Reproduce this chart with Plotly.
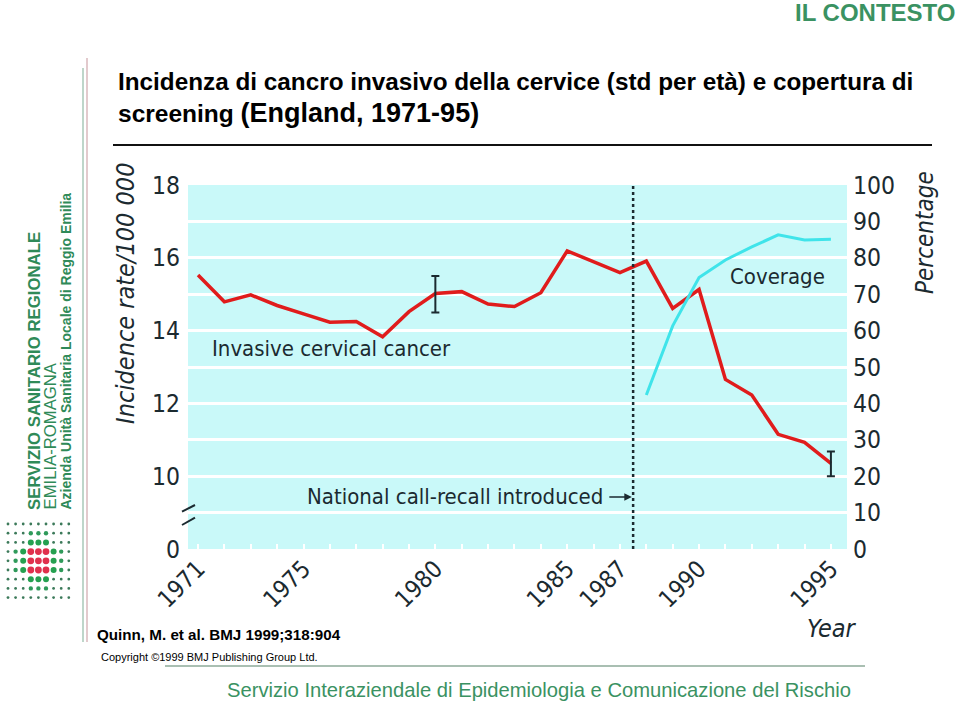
import plotly.graph_objects as go

# ---------------- data ----------------
years = list(range(1971, 1996))
incidence = [15.53, 14.79, 14.98, 14.69, 14.46, 14.23, 14.25, 13.83, 14.52, 15.02,
             15.07, 14.73, 14.66, 15.04, 16.19, 15.90, 15.59, 15.91, 14.61, 15.13,
             12.66, 12.23, 11.15, 10.93, 10.35]
coverage_years = [1988, 1989, 1990, 1991, 1992, 1993, 1994, 1995]
coverage = [42.3, 61.3, 74.6, 79.4, 83.0, 86.3, 84.9, 85.1]
err_years = [1980, 1995]
err_upper = [15.50, 10.68]
err_lower = [14.50, 10.00]
x_tick_years = [1971, 1975, 1980, 1985, 1987, 1990, 1995]
left_tickvals = [8, 10, 12, 14, 16, 18]
left_ticktext = ["0", "10", "12", "14", "16", "18"]
right_tickvals = list(range(0, 101, 10))
call_recall_year = 1987.5

# ---------------- style ----------------
NARROW = "DejaVu Sans Condensed, Liberation Sans Narrow, sans-serif"
SANS = "Liberation Sans, Arial, sans-serif"
DARK = "#1b2a30"
GREEN = "#3a9262"
RED = "#e01c1c"
CYAN = "#3fe4ea"
BG = "#c9f9f9"

W, H = 960, 706
PL, PR, PT, PB = 188, 847, 185, 549


def px(x):
    return (x - PL) / (PR - PL)


def py(y):
    return (PB - y) / (PB - PT)


fig = go.Figure()

fig.add_trace(go.Scatter(x=years, y=incidence, mode="lines",
                         line=dict(color=RED, width=3.5), hoverinfo="skip",
                         showlegend=False))

err_vals = [incidence[years.index(yr)] for yr in err_years]
fig.add_trace(go.Scatter(
    x=err_years, y=err_vals, mode="markers", marker=dict(size=1, color="rgba(0,0,0,0)"),
    error_y=dict(type="data", symmetric=False,
                 array=[u - v for u, v in zip(err_upper, err_vals)],
                 arrayminus=[v - l for v, l in zip(err_vals, err_lower)],
                 color=DARK, thickness=2, width=4),
    hoverinfo="skip", showlegend=False))

fig.add_trace(go.Scatter(x=coverage_years, y=coverage, mode="lines", yaxis="y2",
                         line=dict(color=CYAN, width=3), hoverinfo="skip",
                         showlegend=False))

shapes = []
annotations = []

# dotted vertical line (national call-recall)
shapes.append(dict(type="line", xref="x", yref="paper", x0=call_recall_year,
                   x1=call_recall_year, y0=0, y1=1,
                   line=dict(color=DARK, width=2.5, dash="dot")))

# axis break marks
for y0, y1 in [(511.7, 505), (525, 517.7)]:
    shapes.append(dict(type="line", xref="paper", yref="paper",
                       x0=px(182), x1=px(195), y0=py(y0), y1=py(y1),
                       line=dict(color=DARK, width=2)))

# title underline
shapes.append(dict(type="line", xref="paper", yref="paper", x0=px(113), x1=px(932),
                   y0=py(145), y1=py(145), line=dict(color="#111111", width=2)))
# bottom separator
shapes.append(dict(type="line", xref="paper", yref="paper", x0=px(165), x1=px(865),
                   y0=py(666), y1=py(666), line=dict(color="#a9bfb2", width=2)))
# left vertical double line
shapes.append(dict(type="line", xref="paper", yref="paper", x0=px(83), x1=px(83),
                   y0=py(68), y1=py(642), line=dict(color="#a8c8b8", width=1.5)))
shapes.append(dict(type="line", xref="paper", yref="paper", x0=px(87), x1=px(87),
                   y0=py(58), y1=py(642), line=dict(color="#d8b8bc", width=1.5)))

# logo dot grid
pattern = [
    "sssssssss",
    "sssmmmsss",
    "sssGGGsss",
    "smGRRRGms",
    "smGRRRGms",
    "smGRRRGms",
    "sssGGGsss",
    "sssmmmsss",
    "sssssssss",
]
rad = {"s": 1.4, "m": 2.2, "G": 3.0, "R": 3.4}
col = {"s": "#3c7a5a", "m": "#2f9a5a", "G": "#25a050", "R": "#e0304c"}
for j, row in enumerate(pattern):
    for i, c in enumerate(row):
        cx, cy, r = 8 + 7.6 * i, 524 + 9.2 * j, rad[c]
        shapes.append(dict(type="circle", xref="paper", yref="paper",
                           x0=px(cx - r), x1=px(cx + r), y0=py(cy + r), y1=py(cy - r),
                           fillcolor=col[c], line=dict(width=0)))


def ann(text, x, y, size, color="#000000", family=SANS, xanchor="left",
        yanchor="middle", angle=0, **kw):
    annotations.append(dict(text=text, x=px(x), y=py(y), xref="paper", yref="paper",
                            xanchor=xanchor, yanchor=yanchor, textangle=angle,
                            showarrow=False, font=dict(size=size, color=color,
                                                       family=family), **kw))


# slide text
ann("<b>IL CONTESTO</b>", 957, 13, 24, GREEN, xanchor="right")
ann("<b>Incidenza di cancro invasivo della cervice (std per età) e copertura di</b>",
    116, 82, 24.3)
ann("<b>screening <span style='font-size:27px'>(England, 1971-95)</span></b>",
    116, 113, 24.5)
ann("<b>Quinn, M. et al. BMJ 1999;318:904</b>", 95, 634, 15.2)
ann("Copyright ©1999 BMJ Publishing Group Ltd.", 99, 657, 11)
ann("Servizio Interaziendale di Epidemiologia e Comunicazione del Rischio",
    539, 690, 20.2, GREEN, xanchor="center")
ann("<b>SERVIZIO SANITARIO REGIONALE</b>", 34, 512, 16.8, "#2f8a58",
    xanchor="center", yanchor="bottom", angle=-90)
ann("EMILIA-ROMAGNA", 50, 512, 16.7, "#2f8a58", xanchor="center", yanchor="bottom",
    angle=-90)
ann("<b>Azienda Unità Sanitaria Locale di Reggio Emilia</b>", 65, 512, 14,
    "#2f8a58", xanchor="center", yanchor="bottom", angle=-90)

# axis titles
ann("<i>Incidence rate/100 000</i>", 125, 294, 25, DARK, NARROW,
    xanchor="center", angle=-90)
ann("<i>Percentage</i>", 925, 233, 24, DARK, NARROW, xanchor="center", angle=-90)
ann("<i>Year</i>", 832, 628, 25, DARK, NARROW, xanchor="center")

# chart labels in data coordinates
annotations.append(dict(text="Invasive cervical cancer", x=1971.45, y=13.5, xref="x",
                        yref="y", xanchor="left", yanchor="middle", showarrow=False,
                        font=dict(size=22, color=DARK, family=NARROW)))
annotations.append(dict(text="Coverage", x=1991.08, y=75, xref="x", yref="y2",
                        xanchor="left", yanchor="middle", showarrow=False,
                        font=dict(size=22, color=DARK, family=NARROW)))
annotations.append(dict(text="National call-recall introduced", x=1986.45, y=9.43,
                        xref="x", yref="y", xanchor="right", yanchor="middle",
                        showarrow=False, font=dict(size=22, color=DARK, family=NARROW)))
annotations.append(dict(text="", x=call_recall_year - 0.05, y=9.43, xref="x", yref="y",
                        ax=-24, ay=0, axref="pixel", ayref="pixel", showarrow=True,
                        arrowhead=2, arrowsize=1, arrowwidth=1.5, arrowcolor=DARK))

fig.update_layout(
    width=W, height=H, autosize=False,
    margin=dict(l=PL, r=W - PR, t=PT, b=H - PB, pad=0),
    paper_bgcolor="white", plot_bgcolor=BG,
    font=dict(family=NARROW, color=DARK),
    showlegend=False,
    shapes=shapes, annotations=annotations,
    xaxis=dict(range=[1970.62, 1995.61], tickvals=x_tick_years, tickangle=-45,
               ticks="inside", ticklen=5, tickwidth=2, tickcolor="white",
               minor=dict(ticks="inside", dtick=1, tick0=1971, ticklen=5,
                          tickwidth=2, tickcolor="white"),
               showgrid=False, zeroline=False, showline=False,
               tickfont=dict(size=24, family=NARROW, color=DARK)),
    yaxis=dict(range=[8, 18], tickvals=left_tickvals, ticktext=left_ticktext,
               showgrid=False, zeroline=False, showline=False, ticks="",
               ticklabelstandoff=7,
               tickfont=dict(size=24.5, family=NARROW, color=DARK)),
    yaxis2=dict(range=[0, 100], tickvals=right_tickvals, overlaying="y", side="right",
                showgrid=True, gridcolor="white", gridwidth=3, zeroline=False,
                showline=False, ticks="", ticklabelstandoff=5,
                tickfont=dict(size=24.5, family=NARROW, color=DARK)),
)

fig.write_html("out.html", config={"displayModeBar": False},
               post_script="document.body.style.margin='0px';")
